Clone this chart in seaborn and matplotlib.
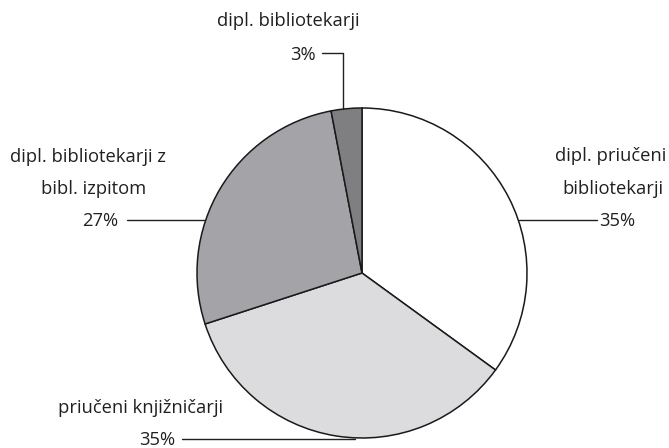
import matplotlib
matplotlib.use("Agg")
import matplotlib.pyplot as plt
import seaborn as sns

categories = ["dipl. priučeni bibliotekarji", "priučeni knjižničarji",
              "dipl. bibliotekarji z bibl. izpitom", "dipl. bibliotekarji"]
values = [35, 35, 27, 3]
pct_labels = ["35%", "35%", "27%", "3%"]

sns.set_theme(style="white")
plt.rcParams['font.family'] = ['Open Sans', 'DejaVu Sans']

W, H = 669, 448
fig = plt.figure(figsize=(W / 100, H / 100), dpi=100)
ax = fig.add_axes([0, 0, 1, 1])

colors = ["#ffffff", "#dcdcde", "#a4a4a8", "#7f7f82"]
cx, cy, r = 362, H - 273, 165
ax.pie(values, colors=colors, startangle=90, counterclock=False,
       center=(cx, cy), radius=r, frame=True,
       wedgeprops=dict(edgecolor="#1a1a1a", linewidth=1.1))
ax.set_xlim(0, W)
ax.set_ylim(0, H)
ax.set_aspect("equal")
ax.axis("off")

fs = 13.2
tc = "#231f20"
lc = "#231f20"
def Y(p):
    return H - p

# dipl. bibliotekarji 3%
ax.text(288.5, Y(21), "dipl. bibliotekarji", ha="center", va="center", fontsize=fs, color=tc)
ax.text(316, Y(55), pct_labels[3], ha="right", va="center", fontsize=fs, color=tc)
ax.plot([322, 343, 343], [Y(53), Y(53), Y(109)], color=lc, lw=1)

# dipl. bibliotekarji z bibl. izpitom 27%
ax.text(88, Y(157), "dipl. bibliotekarji z", ha="center", va="center", fontsize=fs, color=tc)
ax.text(94, Y(189), "bibl. izpitom", ha="center", va="center", fontsize=fs, color=tc)
ax.text(118, Y(221), pct_labels[2], ha="right", va="center", fontsize=fs, color=tc)
ax.plot([127, 205], [Y(220), Y(220)], color=lc, lw=1)

# dipl. priučeni bibliotekarji 35%
ax.text(611, Y(156), "dipl. priučeni", ha="center", va="center", fontsize=fs, color=tc)
ax.text(613, Y(189), "bibliotekarji", ha="center", va="center", fontsize=fs, color=tc)
ax.text(599, Y(221), pct_labels[0], ha="left", va="center", fontsize=fs, color=tc)
ax.plot([519, 597], [Y(220), Y(220)], color=lc, lw=1)

# priučeni knjižničarji 35%
ax.text(141, Y(408), "priučeni knjižničarji", ha="center", va="center", fontsize=fs, color=tc)
ax.text(175, Y(440), pct_labels[1], ha="right", va="center", fontsize=fs, color=tc)
ax.plot([182, 355], [Y(439), Y(439)], color=lc, lw=1)

fig.savefig("out.png", dpi=100, facecolor="white")
